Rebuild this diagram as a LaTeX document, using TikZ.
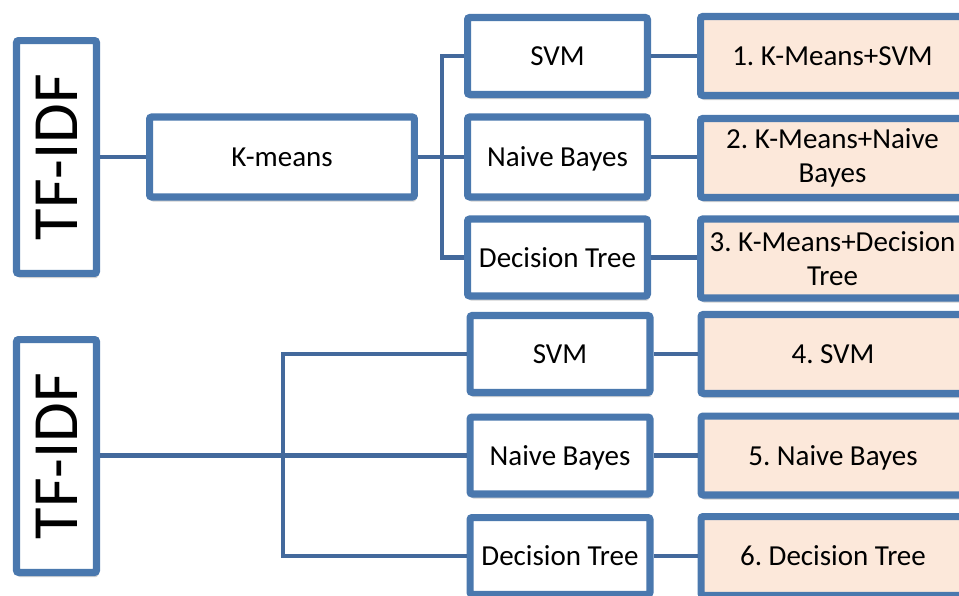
\documentclass[tikz,border=0pt]{standalone}
\usepackage{fontspec}
\usepackage{graphicx}
\setmainfont{Carlito}
\usetikzlibrary{shadows}

\definecolor{boxblue}{HTML}{4A78AE}
\definecolor{linkblue}{HTML}{43699C}
\definecolor{peach}{HTML}{FCE8DA}

\begin{document}
\frenchspacing
\begin{tikzpicture}
        [x=0.02cm, y=-0.02cm,
        box/.style={rectangle, draw=boxblue, line width=4pt, rounded corners=1.2pt,
            fill=white, align=center, inner sep=0pt,
            font=\fontsize{16.5}{19.5}\selectfont,
            drop shadow={shadow xshift=0.8pt, shadow yshift=-2.6pt, opacity=0.18, fill=black}},
        oneline/.style={text depth=0pt},
        feature/.style={box, minimum width=1.6cm, minimum height=4.66cm,
            font=\fontsize{36.7}{40}\selectfont},
        cluster/.style={box, oneline, minimum width=5.3cm, minimum height=1.6cm},
        classifier/.style={box, oneline, minimum width=3.6cm, minimum height=1.54cm},
        result/.style={box, fill=peach, minimum width=5.28cm, minimum height=1.58cm},
        link/.style={draw=linkblue, line width=2.8pt}]

        \clip (0,0) rectangle (959,595);

        % upper pipeline: TF-IDF, clustering, then the classifiers
        \node[feature] (tfidfA) at (56.5,157) {\rotatebox{90}{TF-IDF}};
        \node[cluster] (kmeans) at (282,157) {K-means};
        \node[classifier] (svmA) at (557.5,56) {SVM};
        \node[classifier, minimum height=1.6cm] (nbA) at (557.5,157) {Naive Bayes};
        \node[classifier] (dtA) at (557.5,257.5) {Decision Tree};
        \node[result, oneline] (resA) at (832.5,56) {1. K-Means+SVM};
        \node[result] (resB) at (832.5,158) {2. K-Means+Naive\\Bayes};
        \node[result] (resC) at (832.5,258.5) {3. K-Means+Decision\\Tree};

        % lower pipeline: TF-IDF straight into the classifiers
        \node[feature] (tfidfB) at (56.5,456) {\rotatebox{90}{TF-IDF}};
        \node[classifier] (svmB) at (560,354) {SVM};
        \node[classifier] (nbB) at (560,455.5) {Naive Bayes};
        \node[classifier] (dtB) at (560,556) {Decision Tree};
        \node[result, oneline] (resD) at (833,354) {4. SVM};
        \node[result, oneline] (resE) at (833,455.5) {5. Naive Bayes};
        \node[result, oneline] (resF) at (833,556) {6. Decision Tree};

        % branch points
        \coordinate (splitA) at (442,157);
        \coordinate (splitB) at (283,455.5);

        % upper connectors
        \draw[link] (tfidfA) -- (kmeans);
        \draw[link] (kmeans) -- (nbA);
        \draw[link] (svmA.west) -| (splitA) |- (dtA.west);
        \draw[link] (svmA) -- (resA);
        \draw[link] (nbA) -- (resB.west |- nbA);
        \draw[link] (dtA) -- (resC.west |- dtA);

        % lower connectors
        \draw[link] (tfidfB.east |- splitB) -- (nbB);
        \draw[link] (svmB.west) -| (splitB) |- (dtB.west);
        \draw[link] (svmB) -- (resD);
        \draw[link] (nbB) -- (resE);
        \draw[link] (dtB) -- (resF);

    \end{tikzpicture}
\end{document}
